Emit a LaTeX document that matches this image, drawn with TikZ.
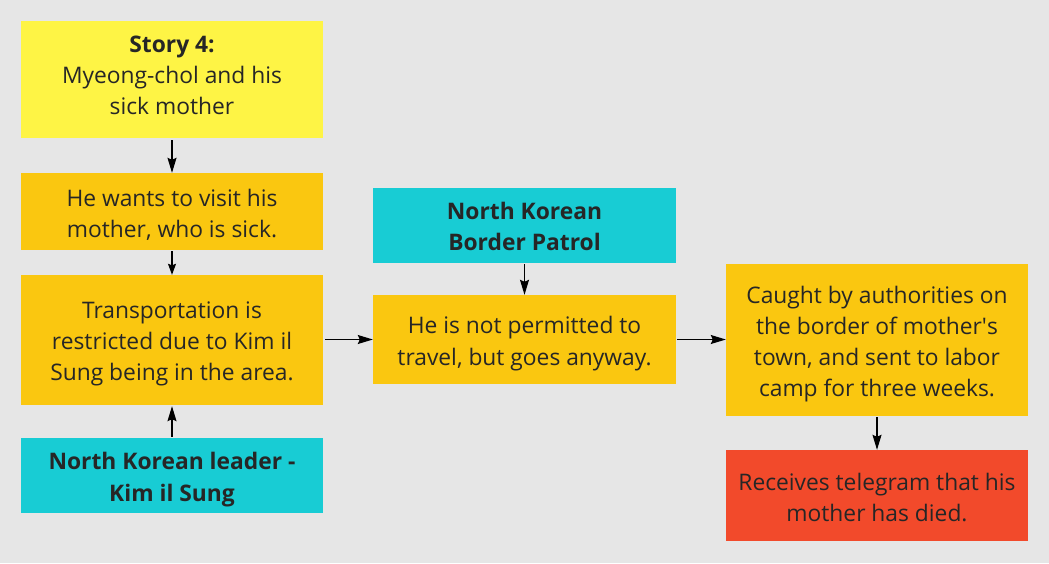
\documentclass[tikz,border=0pt]{standalone}
\usepackage{fontspec}
\setmainfont{Open Sans}
\usetikzlibrary{arrows.meta}
\definecolor{bg}{HTML}{E6E6E6}
\definecolor{cyellow}{HTML}{FEF445}
\definecolor{corange}{HTML}{FAC710}
\definecolor{ccyan}{HTML}{18CCD4}
\definecolor{cred}{HTML}{F24A2B}
\definecolor{ctext}{HTML}{262626}
\begin{document}
\begin{tikzpicture}[x=1pt,y=-1pt,
  box/.style={rectangle, inner sep=0pt, minimum width=302pt},
  txt/.style={inner sep=0pt, align=center, text=ctext,
    font=\fontsize{22.8}{31.2}\selectfont},
  arr/.style={-{Stealth[length=15pt,width=9pt,inset=2pt]}, line width=1.1pt, black},
  shortarr/.style={-{Stealth[length=11pt,width=8pt,inset=1.5pt]}, line width=1.1pt, black}]
\fill[bg] (0,0) rectangle (1049,563);
\useasboundingbox (0,0) rectangle (1049,563);
\node[box, fill=cyellow, minimum height=117pt] (story) at (172,79.5) {};
\node[txt] (story-t) at ([yshift=4pt]story.center)
  {\textbf{Story 4:}\\Myeong-chol and his\\sick mother};
\node[box, fill=corange, minimum height=77pt] (wants) at (172,211.5) {};
\node[txt] (wants-t) at ([yshift=-3pt]wants.center)
  {He wants to visit his\\mother, who is sick.};
\node[box, fill=corange, minimum height=130pt] (trans) at (172,340) {};
\node[txt] (trans-t) at ([yshift=-4pt]trans.center)
  {Transportation is\\restricted due to Kim il\\Sung being in the area.};
\node[box, fill=ccyan, minimum height=75pt] (kim) at (172,475.5) {};
\node[txt] (kim-t) at ([yshift=-4pt]kim.center)
  {\textbf{North Korean leader -}\\\textbf{Kim il Sung}};
\node[box, fill=ccyan, minimum width=303pt, minimum height=75pt] (border) at (524.5,225.5) {};
\node[txt] (border-t) at ([yshift=-1pt]border.center)
  {\textbf{North Korean}\\\textbf{Border Patrol}};
\node[box, fill=corange, minimum width=303pt, minimum height=89pt] (notperm) at (524.5,339.5) {};
\node[txt] (notperm-t) at ([yshift=-4pt]notperm.center)
  {He is not permitted to\\travel, but goes anyway.};
\node[box, fill=corange, minimum height=152pt] (caught) at (877,340) {};
\node[txt] (caught-t) at ([yshift=-4pt]caught.center)
  {Caught by authorities on\\the border of mother\textquotesingle s\\town, and sent to labor\\camp for three weeks.};
\node[box, fill=cred, minimum height=91pt] (recv) at (877,495.5) {};
\node[txt] (recv-t) at ([yshift=-2pt]recv.center)
  {Receives telegram that his\\mother has died.};
\draw[arr] ([yshift=-2pt]story.south) -- (wants.north);
\draw[shortarr] ([yshift=-1pt]wants.south) -- (trans.north);
\draw[arr] ([yshift=1pt]kim.north) -- ([yshift=-1pt]trans.south);
\draw[arr] ([xshift=2pt]trans.east |- notperm.west) -- (notperm.west);
\draw[arr] ([yshift=-1pt]border.south) -- (notperm.north);
\draw[arr] ([xshift=1pt]notperm.east) -- (caught.west |- notperm.east);
\draw[arr] ([yshift=-1pt]caught.south) -- (recv.north);
\end{tikzpicture}
\end{document}
